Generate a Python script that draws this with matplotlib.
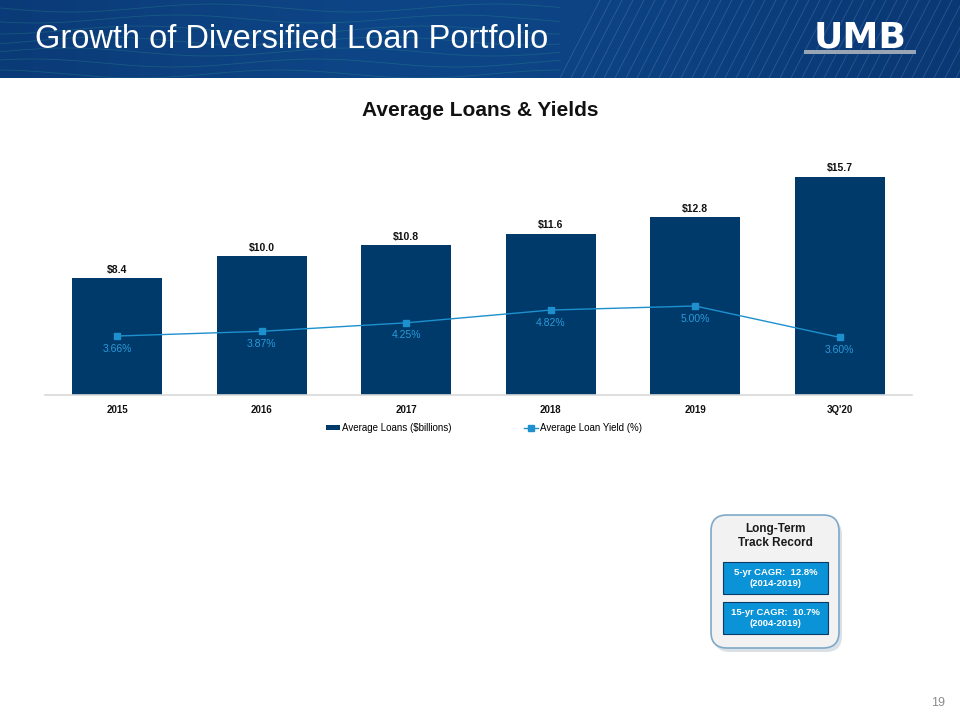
import numpy as np
import matplotlib
matplotlib.use("Agg")
import matplotlib.pyplot as plt
from matplotlib.patches import FancyBboxPatch, Rectangle
from matplotlib.lines import Line2D
from matplotlib.patches import Patch

plt.rcParams["font.family"] = ["Liberation Sans", "DejaVu Sans"]

# chart data
periods = ["2015", "2016", "2017", "2018", "2019", "3Q'20"]
avg_loans = [8.4, 10.0, 10.8, 11.6, 12.8, 15.7]
loan_yield = [3.66, 3.87, 4.25, 4.82, 5.00, 3.60]
loan_labels = ["$8.4", "$10.0", "$10.8", "$11.6", "$12.8", "$15.7"]
yield_labels = ["3.66%", "3.87%", "4.25%", "4.82%", "5.00%", "3.60%"]

page_title = "Growth of Diversified Loan Portfolio"
chart_title = "Average Loans & Yields"
box_title = "Long-Term\nTrack Record"
box_items = ["5-yr CAGR:  12.8%\n(2014-2019)", "15-yr CAGR:  10.7%\n(2004-2019)"]

NAVY = "#003A6B"
LINE_BLUE = "#1E90CE"
LABEL_BLUE = "#2A9AD8"

W, H = 960, 720
fig = plt.figure(figsize=(W / 100, H / 100), dpi=100)
fig.patch.set_facecolor("white")


def fx(px):
    return px / W


def fy(py):
    return 1 - py / H


# header band
hdr = fig.add_axes([0, fy(78), 1, 78 / H])
xs = np.linspace(0, 1, 400)
grad = 0.35 + 0.65 * np.exp(-((xs - 0.45) / 0.45) ** 2)
c0 = np.array([0x06, 0x2c, 0x62]) / 255
c1 = np.array([0x0e, 0x45, 0x86]) / 255
img = c0[None, None, :] + (c1 - c0)[None, None, :] * grad[None, :, None]
img = np.repeat(img, 2, axis=0)
hdr.imshow(img, aspect="auto", extent=[0, W, 78, 0])
for k in range(7):
    t = np.linspace(0, 560, 300)
    hdr.plot(t, 8 + k * 11 + 4 * np.sin(t / 45 + k * 0.8), color="#2f8f8a",
             lw=0.6, alpha=0.35)
for k in range(40):
    x0 = 560 + k * 11
    hdr.plot([x0, x0 + 40], [78, 0], color="#6f9fd6", lw=0.6, alpha=0.3)
hdr.set_xlim(0, W)
hdr.set_ylim(78, 0)
hdr.axis("off")

hdr.text(35, 40, page_title, color="white", fontsize=23.5, va="center", ha="left")
hdr.text(860, 38, "UMB", color="white", fontsize=26, fontweight="heavy",
         va="center", ha="center", family=["DejaVu Sans"])
hdr.add_patch(Rectangle((804, 50), 112, 4, color="#9aa6b4", lw=0))

# main chart
ax = fig.add_axes([fx(45), fy(395), fx(912 - 45), (395 - 145) / H])
x = np.arange(len(periods))
bars = ax.bar(x, avg_loans, width=0.62, color=NAVY, zorder=2,
              label="Average Loans ($billions)")
ax.set_xlim(-0.5, len(periods) - 0.5)
ax.set_ylim(0, 18)
for xi, v, lab in zip(x, avg_loans, loan_labels):
    ax.annotate(lab, (xi, v), xytext=(0, 2.5), textcoords="offset points",
                ha="center", va="bottom", fontsize=7.5, fontweight="bold",
                color="#111111")
ax.set_xticks(x)
ax.set_xticklabels(periods, fontsize=7, fontweight="bold", color="#111111")
ax.tick_params(axis="x", length=0, pad=7)
ax.set_yticks([])
for s in ["top", "right", "left"]:
    ax.spines[s].set_visible(False)
ax.spines["bottom"].set_color("#d9d9d9")
ax.spines["bottom"].set_linewidth(1.2)
ax.patch.set_alpha(0)

ax2 = ax.twinx()
ax2.plot(x, loan_yield, color=LINE_BLUE, lw=1.0, marker="s", markersize=4.5,
         zorder=3, label="Average Loan Yield (%)")
ax2.set_ylim(1.026, 12.19)
ax2.set_yticks([])
for s in ["top", "right", "left", "bottom"]:
    ax2.spines[s].set_visible(False)
for xi, v, lab in zip(x, loan_yield, yield_labels):
    ax2.annotate(lab, (xi, v), xytext=(0, -9), textcoords="offset points",
                 ha="center", va="center", fontsize=7.5, color=LABEL_BLUE)

fig.text(0.5, fy(110), chart_title, ha="center", va="center", fontsize=15,
         fontweight="bold", color="#111111")

handles = [Patch(facecolor=NAVY, edgecolor="none"),
           Line2D([0], [0], color=LINE_BLUE, lw=1.0, marker="s", markersize=4)]
fig.legend(handles, ["Average Loans ($billions)", "Average Loan Yield (%)"],
           loc="center", bbox_to_anchor=(fx(484), fy(428)), ncol=2,
           frameon=False, fontsize=7, handlelength=1.4, handleheight=0.45,
           handletextpad=0.2, columnspacing=7.5)

# track record box
deco = fig.add_axes([0, 0, 1, 1], zorder=-1)
deco.set_xlim(0, W)
deco.set_ylim(H, 0)
deco.axis("off")
deco.add_patch(FancyBboxPatch((714, 519), 128, 133,
                              boxstyle="round,pad=0,rounding_size=16",
                              facecolor="#c9d3dc", edgecolor="none", alpha=0.7))
deco.add_patch(FancyBboxPatch((711, 515), 128, 133,
                              boxstyle="round,pad=0,rounding_size=16",
                              facecolor="#f2f2f2", edgecolor="#7fa9c9", lw=1.2))
deco.text(775, 536, box_title, ha="center", va="center", fontsize=8.5,
          fontweight="bold", color="#1a1a1a", linespacing=1.3)
for i, item in enumerate(box_items):
    top = 562 + i * 40
    deco.add_patch(Rectangle((723, top), 105, 32, facecolor="#0A93D6",
                             edgecolor="#0b3a66", lw=0.8))
    deco.text(775.5, top + 16, item, ha="center", va="center", fontsize=6.8,
              fontweight="bold", color="white", linespacing=1.2)

fig.text(fx(938), fy(703), "19", ha="center", va="center", fontsize=9,
         color="#8c8c8c")

fig.savefig("out.png", dpi=100)
